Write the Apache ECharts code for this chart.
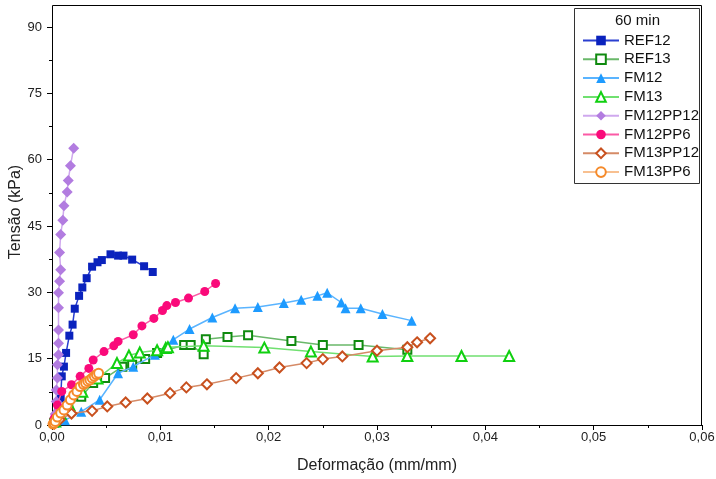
<!DOCTYPE html>
<html>
<head>
<meta charset="utf-8">
<script src="https://cdn.jsdelivr.net/npm/echarts@6/dist/echarts.min.js"></script>
<style>html,body{margin:0;padding:0;background:#fff}#c{width:716px;height:479px}</style>
</head>
<body>
<div id="c"></div>
<script>
const seriesNames = ['REF12','REF13','FM12','FM13','FM12PP12','FM12PP6','FM13PP12','FM13PP6'];
const xTickLabels = ['0,00','0,01','0,02','0,03','0,04','0,05','0,06'];
const yTickLabels = ['0','15','30','45','60','75','90'];

const ref12X = [0.0003,0.0006,0.0008,0.0009,0.0011,0.0013,0.0016,0.0019,0.0021,0.0025,0.0028,0.0032,0.0037,0.0042,0.0046,0.0054,0.0061,0.0066,0.0074,0.0085,0.0093];
const ref12Y = [1.0,3.4,6.0,11.0,13.2,16.3,20.2,22.7,26.3,29.2,31.1,33.2,35.8,36.8,37.3,38.6,38.3,38.3,37.4,35.9,34.6];

const ref13X = [0.0002,0.0006,0.0015,0.0027,0.0038,0.0049,0.0065,0.0074,0.0086,0.0097,0.0122,0.0128,0.0140,0.0142,0.0162,0.0181,0.0221,0.0250,0.0283,0.0328];
const ref13Y = [0.5,2.3,4.1,6.4,9.5,10.6,13.2,13.6,14.9,16.3,18.1,18.1,16.0,19.4,19.9,20.3,19.0,18.1,18.1,17.0];

const fm12X = [0.0002,0.0012,0.0027,0.0044,0.0061,0.0075,0.0095,0.0112,0.0127,0.0148,0.0169,0.0190,0.0214,0.0230,0.0245,0.0254,0.0267,0.0271,0.0285,0.0305,0.0332];
const fm12Y = [0.5,1.1,3.0,5.7,11.7,13.2,15.9,19.3,21.7,24.3,26.4,26.7,27.6,28.3,29.2,29.9,27.7,26.4,26.4,25.1,23.6];

const fm13X = [0.0003,0.0008,0.0016,0.0028,0.0042,0.0060,0.0071,0.0081,0.0097,0.0105,0.0107,0.0140,0.0196,0.0239,0.0296,0.0328,0.0378,0.0422];
const fm13Y = [0.8,2.5,4.5,7.5,10.5,14.0,15.7,16.4,16.9,17.4,17.6,17.9,17.5,16.6,15.5,15.6,15.6,15.6];

const fm12pp12X = [0.0002,0.0003,0.0004,0.0004,0.0005,0.0005,0.0006,0.0006,0.0006,0.0006,0.0006,0.0007,0.0008,0.0007,0.0008,0.0010,0.0011,0.0014,0.0015,0.0017,0.0020];
const fm12pp12Y = [0.5,2.5,5.3,7.9,10.6,13.6,15.9,18.5,21.5,26.5,29.9,32.5,35.1,39.0,43.1,46.3,49.6,52.7,55.3,58.6,62.6];

const fm12pp6X = [0.0002,0.0005,0.0009,0.0018,0.0026,0.0034,0.0038,0.0048,0.0057,0.0061,0.0075,0.0083,0.0094,0.0102,0.0106,0.0114,0.0126,0.0141,0.0151];
const fm12pp6Y = [1.5,4.5,7.6,9.1,11.0,12.8,14.7,16.6,17.9,18.9,20.4,22.4,24.1,25.9,27.0,27.7,28.7,30.2,32.0];

const fm13pp12X = [0.0002,0.0007,0.0018,0.0037,0.0051,0.0068,0.0088,0.0109,0.0124,0.0143,0.0170,0.0190,0.0210,0.0235,0.0250,0.0268,0.0300,0.0328,0.0337,0.0349];
const fm13pp12Y = [0.3,1.2,2.6,3.2,4.2,5.1,6.0,7.2,8.5,9.2,10.6,11.7,13.0,14.0,14.9,15.5,16.8,17.6,18.7,19.6];

const fm13pp6X = [0.0001,0.0002,0.0003,0.0005,0.0008,0.0011,0.0014,0.0017,0.0020,0.0023,0.0026,0.0029,0.0031,0.0033,0.0035,0.0037,0.0039,0.0041,0.0043];
const fm13pp6Y = [0.2,0.4,0.8,1.8,2.7,3.4,4.5,5.7,6.8,7.6,8.7,9.2,9.5,9.9,10.2,10.6,11.0,11.4,11.7];

const seriesX = [ref12X,ref13X,fm12X,fm13X,fm12pp12X,fm12pp6X,fm13pp12X,fm13pp6X];
const seriesY = [ref12Y,ref13Y,fm12Y,fm13Y,fm12pp12Y,fm12pp6Y,fm13pp12Y,fm13pp6Y];

const styles = [
  {m:'#0a22bd', l:'#2a3fd0', sym:'rect', size:8, open:false},
  {m:'#0f8a0f', l:'#6ab86a', sym:'rect', size:8, open:true},
  {m:'#1e9bff', l:'#5ab4ff', sym:'triangle', size:10, open:false},
  {m:'#10d010', l:'#70e070', sym:'triangle', size:10, open:true},
  {m:'#b27ce0', l:'#cfa8ee', sym:'diamond', size:11, open:false},
  {m:'#fa0a7a', l:'#fb5aa5', sym:'circle', size:9, open:false},
  {m:'#c8501e', l:'#d58a66', sym:'diamond', size:10, open:true},
  {m:'#f58a2a', l:'#f8c090', sym:'circle', size:9, open:true}
];

const series = seriesNames.map((name, i) => {
  const s = styles[i];
  return {
    name: name,
    type: 'line',
    data: seriesX[i].map((x, j) => [x, seriesY[i][j]]),
    symbol: s.sym,
    symbolSize: s.size,
    showAllSymbol: true,
    lineStyle: {color: s.l, width: 1.5},
    itemStyle: s.open ? {color: '#ffffff', borderColor: s.m, borderWidth: 2}
                      : {color: s.m, borderColor: s.m, borderWidth: 0},
    emphasis: {disabled: true},
    animation: false,
    z: 2 + i
  };
});

const chart = echarts.init(document.getElementById('c'), null, {renderer: 'canvas'});
chart.setOption({
  animation: false,
  backgroundColor: '#ffffff',
  grid: {left: 52, right: 14, top: 27, bottom: 54, containLabel: false, outerBoundsMode: 'none'},
  xAxis: {
    type: 'value', min: 0, max: 0.06, interval: 0.01,
    name: 'Deformação (mm/mm)', nameLocation: 'middle', nameGap: 33, nameMoveOverlap: false,
    nameTextStyle: {fontSize: 16, color: '#222', fontFamily: 'Liberation Sans'},
    axisLine: {show: true, lineStyle: {color: '#000', width: 1}},
    axisTick: {show: true, inside: false, length: 5, lineStyle: {color: '#000'}},
    minorTick: {show: true, splitNumber: 2, length: 3, lineStyle: {color: '#000'}},
    splitLine: {show: false},
    axisLabel: {margin: 6, fontSize: 13, color: '#222', fontFamily: 'Liberation Sans',
      formatter: v => xTickLabels[Math.round(v / 0.01)] || ''}
  },
  yAxis: {
    type: 'value', min: 0, max: 90, interval: 15,
    name: 'Tensão (kPa)', nameLocation: 'middle', nameGap: 28, nameRotate: 90, nameMoveOverlap: false,
    nameTextStyle: {fontSize: 16, color: '#222', fontFamily: 'Liberation Sans', padding: [0,0,0,28]},
    axisLine: {show: true, lineStyle: {color: '#000', width: 1}},
    axisTick: {show: true, inside: false, length: 5, lineStyle: {color: '#000'}},
    minorTick: {show: true, splitNumber: 2, length: 3, lineStyle: {color: '#000'}},
    splitLine: {show: false},
    axisLabel: {margin: 10, fontSize: 13, color: '#222', fontFamily: 'Liberation Sans',
      formatter: v => yTickLabels[Math.round(v / 15)] || ''}
  },
  legend: {
    orient: 'vertical', left: 577, top: 28,
    itemWidth: 36, itemHeight: 12, itemGap: 3.8,
    textStyle: {fontSize: 15, color: '#111', fontFamily: 'Liberation Sans', lineHeight: 14},
    data: seriesNames,
    selectedMode: false,
    z: 20
  },
  graphic: [
    {type: 'rect', z: -1, silent: true,
     shape: {x: 52.5, y: 5.5, width: 649, height: 420},
     style: {fill: 'none', stroke: '#000', lineWidth: 1}},
    {type: 'rect', z: 10, silent: true,
     shape: {x: 574.5, y: 8.5, width: 125, height: 175},
     style: {fill: '#fff', stroke: '#333', lineWidth: 1}},
    {type: 'text', z: 11, silent: true, left: 615, top: 13,
     style: {text: '60 min', fontSize: 15, fill: '#111', fontFamily: 'Liberation Sans'}}
  ],
  series: series
});
</script>
</body>
</html>
